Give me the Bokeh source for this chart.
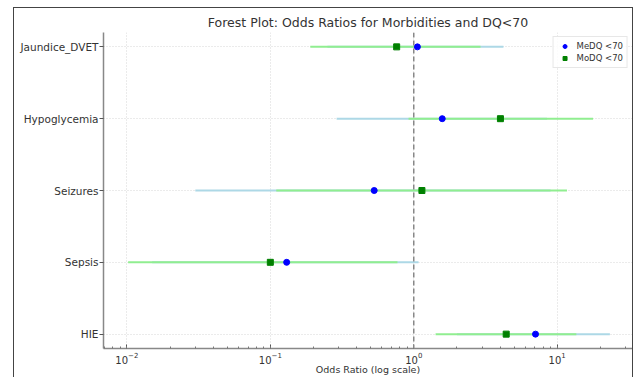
from bokeh.plotting import figure
from bokeh.models import (Span, Legend, LegendItem, FixedTicker,
                          Range1d, ColumnDataSource)
from bokeh.embed import file_html
from bokeh.resources import INLINE

# ---- data ----
categories = ["Jaundice_DVET", "Hypoglycemia", "Seizures", "Sepsis", "HIE"]
medq_or = [1.06, 1.58, 0.53, 0.13, 7.06]
medq_lo = [0.25, 0.29, 0.030, 0.015, 2.0]
medq_hi = [4.22, 8.5, 9.0, 1.08, 23.3]
modq_or = [0.76, 4.02, 1.14, 0.10, 4.41]
modq_lo = [0.19, 0.92, 0.11, 0.0102, 1.42]
modq_hi = [2.92, 17.8, 11.7, 0.77, 13.6]

n = len(categories)
ypos = [n - 1 - i for i in range(n)]

FONT = "DejaVu Sans"

p = figure(frame_width=529, frame_height=316, x_axis_type="log",
           x_range=Range1d(0.00687, 33.5), y_range=Range1d(-0.2, n - 1 + 0.2),
           output_backend="svg", toolbar_location=None,
           min_border_left=89, min_border_right=0,
           min_border_top=24, min_border_bottom=0,
           title="Forest Plot: Odds Ratios for Morbidities and DQ<70")
p.styles = {"margin-left": "13px", "margin-top": "7px",
            "border-left": "1.5px solid #444444",
            "border-top": "1.5px solid #444444",
            "border-right": "1.5px solid #444444"}

p.title.align = "center"
p.title.text_font = FONT
p.title.text_font_size = "12.5px"
p.title.text_font_style = "normal"
p.title.text_color = "#333333"
p.title.standoff = 5
p.outline_line_color = None

src1 = ColumnDataSource(dict(y=ypos, lo=medq_lo, hi=medq_hi, v=medq_or))
src2 = ColumnDataSource(dict(y=ypos, lo=modq_lo, hi=modq_hi, v=modq_or))

p.segment(x0="lo", y0="y", x1="hi", y1="y", source=src1,
          line_color="#add8e6", line_width=2)
p.segment(x0="lo", y0="y", x1="hi", y1="y", source=src2,
          line_color="#90ee90", line_width=2)

p.add_layout(Span(location=1, dimension="height", line_color="#888888",
                  line_width=1.5, line_dash="5 3"))

r1 = p.scatter(x="v", y="y", source=src1, marker="circle", size=6,
               fill_color="blue", line_color="blue")
r2 = p.scatter(x="v", y="y", source=src2, marker="square", size=6,
               fill_color="green", line_color="green")

legend = Legend(items=[LegendItem(label="MeDQ <70", renderers=[r1]),
                       LegendItem(label="MoDQ <70", renderers=[r2])],
                location="top_right")
legend.label_text_font = FONT
legend.label_text_font_size = "8.5px"
legend.label_text_color = "#333333"
legend.glyph_height = 10
legend.glyph_width = 14
legend.label_height = 10
legend.spacing = 2
legend.padding = 4
legend.margin = 4
legend.border_line_color = "#d0d0d0"
legend.background_fill_alpha = 0.85
p.add_layout(legend)

# axes
p.yaxis.ticker = FixedTicker(ticks=ypos)
p.yaxis.major_label_overrides = {y: c for y, c in zip(ypos, categories)}
p.yaxis.minor_tick_line_color = None
p.xaxis.axis_label = "Odds Ratio (log scale)"
for ax in (p.xaxis, p.yaxis):
    ax.axis_line_color = "#888888"
    ax.axis_line_width = 1.5
    ax.major_tick_line_color = "#555555"
    ax.major_label_text_font = FONT
    ax.major_label_text_color = "#333333"
p.yaxis.major_label_text_font_size = "10.5px"
p.xaxis.major_label_text_font_size = "10px"
p.yaxis.major_tick_in = 0
p.yaxis.major_tick_out = 4
p.yaxis.major_label_standoff = 1
p.xaxis.major_tick_in = 4
p.xaxis.major_tick_out = 0
p.xaxis.major_label_standoff = 3
p.xaxis.minor_tick_in = 2
p.xaxis.minor_tick_out = 0
p.xaxis.minor_tick_line_color = "#777777"
p.xaxis.axis_label_text_font = FONT
p.xaxis.axis_label_text_font_size = "9.5px"
p.xaxis.axis_label_text_font_style = "normal"
p.xaxis.axis_label_text_color = "#333333"
p.xaxis.axis_label_standoff = -3

p.xgrid.grid_line_color = "#d6d6d6"
p.xgrid.grid_line_dash = "1 2"
p.ygrid.grid_line_color = "#d6d6d6"
p.ygrid.grid_line_dash = "1 2"
p.ygrid.ticker = FixedTicker(ticks=ypos)

open("out.html", "w").write(file_html(p, INLINE))
